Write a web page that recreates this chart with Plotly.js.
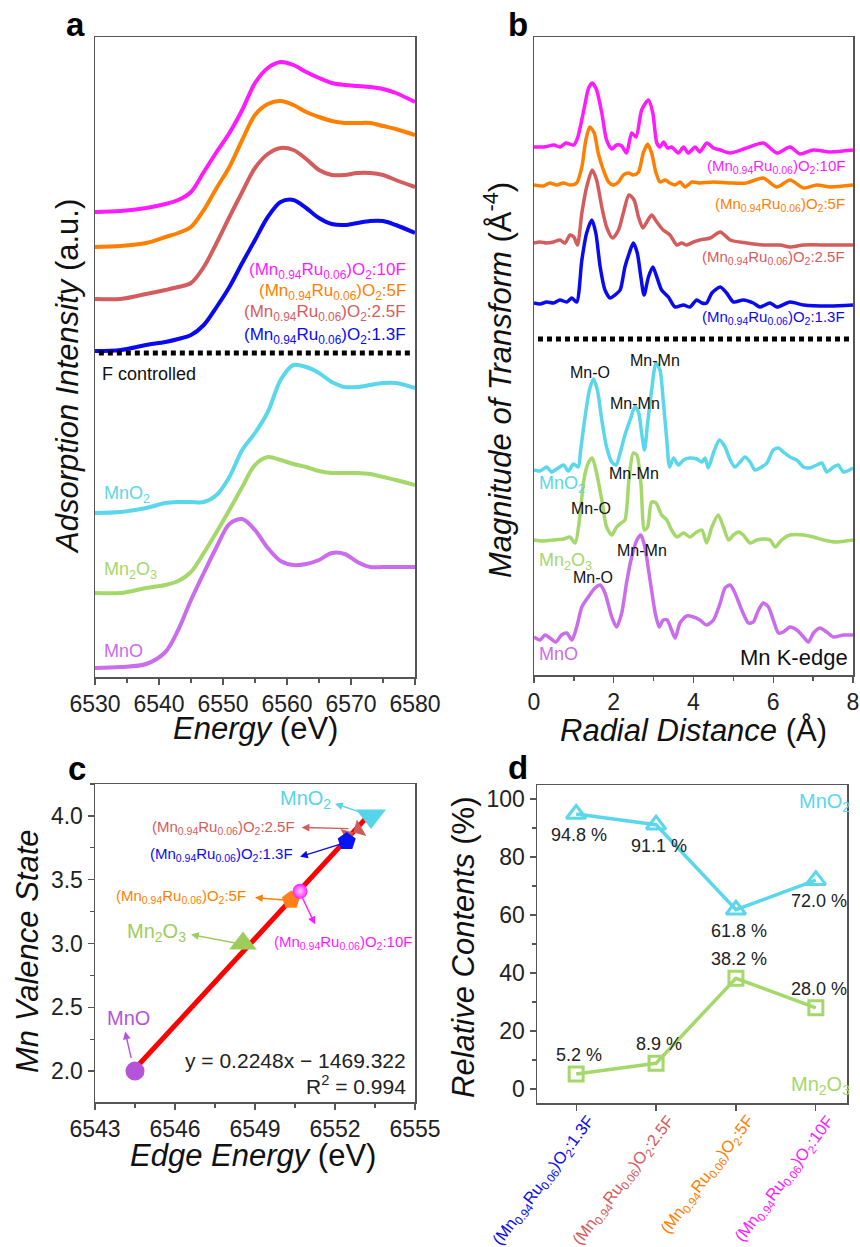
<!DOCTYPE html>
<html><head><meta charset="utf-8">
<script src="https://cdn.plot.ly/plotly-3.0.1.min.js"></script>
<style>html,body{margin:0;padding:0;background:#fff}#chart{width:860px;height:1247px}</style>
</head><body><div id="chart"></div>
<script>
// ---------- Panel a: XANES (Energy, eV) ----------
const eA = [6530, 6534, 6538, 6541, 6543, 6545, 6547, 6549, 6551, 6553, 6555, 6557, 6559, 6561, 6563, 6565, 6567, 6569, 6571, 6573, 6575, 6577, 6580];
const a10F  = [4.65, 4.66, 4.69, 4.73, 4.77, 4.85, 5.05, 5.25, 5.44, 5.67, 5.94, 6.09, 6.15, 6.12, 6.05, 5.99, 5.94, 5.92, 5.91, 5.90, 5.88, 5.84, 5.75];
const a5F   = [4.30, 4.31, 4.34, 4.40, 4.44, 4.50, 4.67, 4.89, 5.10, 5.37, 5.62, 5.73, 5.76, 5.72, 5.65, 5.60, 5.56, 5.54, 5.54, 5.54, 5.51, 5.48, 5.42];
const a2p5F = [3.78, 3.78, 3.83, 3.87, 3.90, 3.94, 4.10, 4.34, 4.60, 4.85, 5.09, 5.23, 5.29, 5.27, 5.18, 5.07, 5.02, 5.02, 5.04, 5.04, 5.02, 4.97, 4.90];
const a1p3F = [3.26, 3.27, 3.32, 3.35, 3.38, 3.42, 3.52, 3.70, 3.90, 4.14, 4.37, 4.60, 4.75, 4.77, 4.69, 4.59, 4.53, 4.52, 4.54, 4.56, 4.56, 4.52, 4.44];
const aMnO2 = [1.64, 1.65, 1.69, 1.74, 1.75, 1.75, 1.75, 1.82, 2.00, 2.27, 2.44, 2.65, 2.97, 3.12, 3.10, 3.04, 2.95, 2.90, 2.90, 2.92, 2.94, 2.94, 2.89];
const aMn2O3= [0.84, 0.84, 0.89, 0.92, 0.96, 1.05, 1.24, 1.45, 1.67, 1.90, 2.12, 2.20, 2.17, 2.13, 2.10, 2.06, 2.04, 2.04, 2.04, 2.03, 2.00, 1.97, 1.92];
const aMnO  = [0.09, 0.10, 0.13, 0.25, 0.47, 0.77, 1.04, 1.30, 1.53, 1.58, 1.47, 1.29, 1.16, 1.12, 1.13, 1.17, 1.24, 1.23, 1.15, 1.10, 1.10, 1.10, 1.10];
const dividerA = 3.24;

// ---------- Panel b: EXAFS (Radial distance, Å) ----------
const b10F_x = [0, 0.25, 0.5, 0.65, 0.8, 1.0, 1.1, 1.25, 1.37, 1.46, 1.57, 1.7, 1.82, 1.95, 2.07, 2.2, 2.32, 2.45, 2.56, 2.7, 2.87, 2.98, 3.08, 3.16, 3.25, 3.35, 3.45, 3.62, 3.75, 3.87, 4.04, 4.16, 4.33, 4.5, 4.67, 4.92, 5.33, 5.75, 6.09, 6.42, 6.67, 7.0, 7.43, 8.0];
const b10F_y = [5.28, 5.28, 5.30, 5.28, 5.32, 5.30, 5.38, 5.65, 5.87, 5.92, 5.85, 5.62, 5.35, 5.26, 5.30, 5.29, 5.22, 5.42, 5.38, 5.65, 5.75, 5.62, 5.32, 5.28, 5.33, 5.27, 5.28, 5.22, 5.28, 5.22, 5.28, 5.23, 5.32, 5.27, 5.25, 5.22, 5.27, 5.32, 5.22, 5.28, 5.21, 5.25, 5.23, 5.25];
const b5F_x = [0, 0.23, 0.4, 0.57, 0.74, 0.9, 1.07, 1.2, 1.3, 1.4, 1.51, 1.61, 1.74, 1.87, 1.99, 2.12, 2.24, 2.37, 2.49, 2.62, 2.74, 2.85, 2.95, 3.06, 3.16, 3.29, 3.41, 3.54, 3.66, 3.79, 3.96, 4.16, 4.5, 4.92, 5.33, 5.75, 6.09, 6.42, 6.76, 7.09, 7.43, 8.0];
const b5F_y = [4.90, 4.89, 4.92, 4.90, 4.92, 4.90, 4.92, 5.08, 5.35, 5.48, 5.42, 5.22, 5.05, 4.93, 4.90, 4.93, 5.00, 5.02, 5.00, 5.03, 5.22, 5.31, 5.22, 5.02, 4.93, 4.95, 4.92, 4.90, 4.93, 4.88, 4.93, 4.92, 4.93, 4.92, 4.92, 4.97, 4.88, 4.95, 4.87, 4.90, 4.88, 4.90];
const b2p5F_x = [0, 0.15, 0.32, 0.49, 0.65, 0.78, 0.9, 1.0, 1.09, 1.2, 1.32, 1.46, 1.57, 1.7, 1.82, 1.97, 2.12, 2.24, 2.38, 2.51, 2.62, 2.73, 2.83, 2.95, 3.08, 3.24, 3.41, 3.58, 3.7, 3.83, 4.0, 4.16, 4.42, 4.67, 4.92, 5.33, 5.75, 6.17, 6.42, 6.76, 7.43, 8.0];
const b2p5F_y = [4.32, 4.33, 4.32, 4.33, 4.35, 4.32, 4.40, 4.38, 4.30, 4.62, 4.88, 5.05, 4.95, 4.68, 4.48, 4.37, 4.45, 4.62, 4.80, 4.75, 4.58, 4.47, 4.53, 4.60, 4.53, 4.45, 4.40, 4.30, 4.32, 4.30, 4.33, 4.35, 4.37, 4.43, 4.35, 4.32, 4.30, 4.30, 4.28, 4.30, 4.30, 4.30];
const b1p3F_x = [0, 0.15, 0.32, 0.49, 0.65, 0.82, 0.95, 1.07, 1.2, 1.32, 1.45, 1.55, 1.66, 1.78, 1.91, 2.03, 2.16, 2.28, 2.39, 2.49, 2.59, 2.68, 2.76, 2.87, 2.98, 3.08, 3.2, 3.37, 3.54, 3.75, 3.91, 4.08, 4.21, 4.33, 4.46, 4.67, 4.83, 5.0, 5.25, 5.5, 5.67, 5.92, 6.09, 6.42, 6.76, 7.43, 8.0];
const b1p3F_y = [3.72, 3.71, 3.73, 3.72, 3.75, 3.73, 3.77, 3.73, 4.15, 4.42, 4.55, 4.42, 4.08, 3.85, 3.77, 3.80, 3.85, 4.08, 4.22, 4.32, 4.22, 3.98, 3.80, 3.98, 4.08, 3.98, 3.85, 3.78, 3.68, 3.70, 3.68, 3.75, 3.72, 3.72, 3.82, 3.88, 3.82, 3.73, 3.75, 3.72, 3.68, 3.72, 3.68, 3.73, 3.70, 3.69, 3.70];
const bMnO2_x = [0, 0.15, 0.32, 0.44, 0.61, 0.74, 0.86, 0.99, 1.11, 1.17, 1.28, 1.39, 1.49, 1.59, 1.7, 1.82, 1.95, 2.06, 2.16, 2.28, 2.41, 2.53, 2.62, 2.7, 2.77, 2.85, 2.95, 3.06, 3.16, 3.24, 3.33, 3.4, 3.5, 3.62, 3.75, 3.91, 4.08, 4.21, 4.29, 4.37, 4.5, 4.65, 4.79, 4.92, 5.04, 5.17, 5.29, 5.42, 5.54, 5.67, 5.84, 6.0, 6.13, 6.25, 6.42, 6.59, 6.76, 6.92, 7.09, 7.22, 7.34, 7.51, 7.63, 7.76, 8.0];
const bMnO2_y = [2.05, 2.04, 2.08, 2.03, 2.07, 2.10, 2.04, 2.11, 2.08, 2.25, 2.58, 2.85, 2.96, 2.85, 2.55, 2.28, 2.13, 2.10, 2.22, 2.40, 2.55, 2.68, 2.63, 2.42, 2.25, 2.52, 2.85, 3.12, 3.05, 2.75, 2.35, 2.08, 2.17, 2.10, 2.15, 2.17, 2.16, 2.13, 2.17, 2.07, 2.22, 2.35, 2.28, 2.15, 2.08, 2.13, 2.18, 2.13, 2.05, 2.07, 2.12, 2.25, 2.27, 2.23, 2.18, 2.15, 2.08, 2.07, 2.10, 2.12, 2.03, 2.08, 2.10, 2.03, 2.07];
const bMn2O3_x = [0, 0.23, 0.49, 0.74, 0.9, 1.03, 1.14, 1.25, 1.36, 1.46, 1.57, 1.7, 1.82, 1.95, 2.07, 2.18, 2.28, 2.38, 2.49, 2.58, 2.68, 2.77, 2.85, 2.95, 3.06, 3.2, 3.33, 3.45, 3.58, 3.75, 3.91, 4.08, 4.21, 4.33, 4.46, 4.62, 4.75, 4.88, 5.0, 5.13, 5.25, 5.42, 5.59, 5.75, 5.92, 6.05, 6.21, 6.42, 6.76, 7.01, 7.26, 7.59, 8.0];
const bMn2O3_y = [1.35, 1.34, 1.35, 1.36, 1.38, 1.32, 1.55, 1.95, 2.12, 2.17, 2.02, 1.75, 1.48, 1.40, 1.48, 1.52, 1.55, 1.95, 2.22, 2.20, 1.92, 1.45, 1.48, 1.73, 1.72, 1.60, 1.55, 1.45, 1.38, 1.42, 1.38, 1.43, 1.45, 1.32, 1.48, 1.60, 1.48, 1.35, 1.40, 1.43, 1.40, 1.32, 1.35, 1.36, 1.35, 1.28, 1.35, 1.40, 1.40, 1.38, 1.35, 1.33, 1.35];
const bMnO_x = [0, 0.15, 0.28, 0.4, 0.55, 0.69, 0.82, 0.95, 1.07, 1.2, 1.36, 1.53, 1.66, 1.78, 1.95, 2.07, 2.2, 2.32, 2.45, 2.58, 2.68, 2.78, 2.91, 3.04, 3.14, 3.24, 3.34, 3.45, 3.54, 3.66, 3.83, 4.0, 4.16, 4.33, 4.5, 4.67, 4.79, 4.92, 5.04, 5.21, 5.38, 5.5, 5.63, 5.75, 5.88, 6.0, 6.13, 6.25, 6.42, 6.59, 6.76, 6.88, 7.01, 7.17, 7.34, 7.51, 7.76, 8.0];
const bMnO_y = [0.38, 0.35, 0.40, 0.37, 0.33, 0.40, 0.42, 0.35, 0.48, 0.68, 0.78, 0.87, 0.90, 0.82, 0.58, 0.48, 0.62, 0.92, 1.18, 1.35, 1.40, 1.28, 0.95, 0.62, 0.48, 0.55, 0.55, 0.45, 0.37, 0.52, 0.59, 0.58, 0.55, 0.50, 0.55, 0.72, 0.87, 0.90, 0.82, 0.65, 0.52, 0.53, 0.65, 0.72, 0.68, 0.55, 0.42, 0.43, 0.48, 0.45, 0.38, 0.33, 0.42, 0.47, 0.43, 0.38, 0.40, 0.40];
const dividerB = 3.36;

// ---------- Panel c: valence vs edge energy ----------
const cNames   = ['MnO', 'Mn2O3', 'MnO2', '2.5F', '1.3F', '5F', '10F'];
const cEdgeE   = [6544.5, 6548.55, 6553.35, 6552.69, 6552.44, 6550.35, 6550.69];
const cValence = [2.0, 3.0, 4.0, 3.87, 3.80, 3.34, 3.41];
const fitX = [6544.55, 6553.2];
const fitY = [2.03, 3.99];

// ---------- Panel d: relative contents ----------
const dCats  = ['1.3F', '2.5F', '5F', '10F'];
const dMnO2  = [94.8, 91.1, 61.8, 72.0];
const dMn2O3 = [5.2, 8.9, 38.2, 28.0];

// ---------- styling ----------
const C = {m:'#ff1aff', o:'#ff8000', r:'#d55c5c', b:'#0a0af0', cy:'#5ad7ea', g:'#a5d86a', v:'#c96ded'};
const FONT = 'Liberation Sans, Arial, sans-serif';
const cmp = s => '(Mn<sub>0.94</sub>Ru<sub>0.06</sub>)O<sub>2</sub>:' + s;
const W = 860, H = 1247;
const px = v => v / W, py = v => 1 - v / H;

const traces = [];
function ln(x, y, color, w, xa, ya, sm) {
  traces.push({type:'scatter', mode:'lines', x:x, y:y, xaxis:xa, yaxis:ya,
    line:{color:color, width:w, shape:'spline', smoothing:sm}, hoverinfo:'skip', showlegend:false});
}
// panel a
[[a10F,C.m],[a5F,C.o],[a2p5F,C.r],[a1p3F,C.b],[aMnO2,C.cy],[aMn2O3,C.g],[aMnO,C.v]].forEach(s=>ln(eA, s[0], s[1], 4, 'x', 'y', 0.9));
traces.push({type:'scatter', mode:'lines', x:[eA[0]+0.6, eA[eA.length-1]-0.6], y:[dividerA, dividerA], xaxis:'x', yaxis:'y',
  line:{color:'#000', width:5, dash:'5px,4px'}, hoverinfo:'skip', showlegend:false});
// panel b
[[b10F_x,b10F_y,C.m],[b5F_x,b5F_y,C.o],[b2p5F_x,b2p5F_y,C.r],[b1p3F_x,b1p3F_y,C.b],
 [bMnO2_x,bMnO2_y,C.cy],[bMn2O3_x,bMn2O3_y,C.g],[bMnO_x,bMnO_y,C.v]].forEach(s=>ln(s[0], s[1], s[2], 3.5, 'x2', 'y2', 0.7));
traces.push({type:'scatter', mode:'lines', x:[0.1, 7.95], y:[dividerB, dividerB], xaxis:'x2', yaxis:'y2',
  line:{color:'#000', width:5, dash:'5px,4px'}, hoverinfo:'skip', showlegend:false});
// panel c
traces.push({type:'scatter', mode:'lines', x:fitX, y:fitY, xaxis:'x3', yaxis:'y3', line:{color:'#ff0000', width:5}, hoverinfo:'skip', showlegend:false});
const cStyle = {
  'MnO':  {symbol:'circle', size:19, color:'#b553d9'},
  'Mn2O3':{symbol:'triangle-up', size:24, color:'#9ccd5a'},
  'MnO2': {symbol:'triangle-down', size:26, color:'#55d4ea'},
  '2.5F': {symbol:'bowtie', size:19, color:'#d05a5a', angle:-30},
  '1.3F': {symbol:'pentagon', size:19, color:'#0a14f0'},
  '5F':   {symbol:'pentagon', size:19, color:'#ff7f1a'},
  '10F':  {symbol:'circle', size:15, color:'#ff1aff', gradient:{type:'radial', color:'#ffd0ff'}}
};
cNames.forEach((n,i)=>{
  const s = cStyle[n];
  traces.push({type:'scatter', mode:'markers', x:[cEdgeE[i]], y:[cValence[i]], xaxis:'x3', yaxis:'y3',
    marker:Object.assign({line:{width:0}}, s), hoverinfo:'skip', showlegend:false});
});
// panel d
const dIdx = dCats.map((c,i)=>i);
traces.push({type:'scatter', mode:'lines+markers', x:dIdx, y:dMnO2, xaxis:'x4', yaxis:'y4',
  line:{color:C.cy, width:3.5}, marker:{symbol:'triangle-up-open', size:17, color:C.cy, line:{width:3, color:C.cy}}, hoverinfo:'skip', showlegend:false});
traces.push({type:'scatter', mode:'lines+markers', x:dIdx, y:dMn2O3, xaxis:'x4', yaxis:'y4',
  line:{color:C.g, width:3.5}, marker:{symbol:'square-open', size:14, color:C.g, line:{width:3, color:C.g}}, hoverinfo:'skip', showlegend:false});

// ---------- axes ----------
const frame = {showline:true, mirror:true, linecolor:'#555', linewidth:1.5, zeroline:false, showgrid:false,
  tickfont:{family:FONT, size:23, color:'#222'}, ticks:'outside', ticklen:6, tickwidth:1.3, tickcolor:'#555'};
const noY = Object.assign({}, frame, {ticks:'', showticklabels:false});
const layout = {
  width:W, height:H, margin:{l:0, r:0, t:0, b:0}, paper_bgcolor:'#fff', plot_bgcolor:'#fff',
  font:{family:FONT, color:'#111'}, showlegend:false,
  xaxis: Object.assign({}, frame, {domain:[px(95), px(415)], range:[6530, 6580], tickvals:[6530,6540,6550,6560,6570,6580],
    minor:{dtick:5, ticklen:4, ticks:'outside', tickcolor:'#555'}, anchor:'y'}),
  yaxis: Object.assign({}, noY, {domain:[py(677), py(37)], range:[0, 6.40], anchor:'x'}),
  xaxis2: Object.assign({}, frame, {domain:[px(534), px(853)], range:[0, 8], dtick:2,
    minor:{dtick:1, ticklen:4, ticks:'outside', tickcolor:'#555'}, anchor:'y2'}),
  yaxis2: Object.assign({}, noY, {domain:[py(675), py(37)], range:[0, 6.38], anchor:'x2'}),
  xaxis3: Object.assign({}, frame, {domain:[px(95), px(415)], range:[6543, 6555], dtick:3, tick0:6543,
    minor:{dtick:1.5, ticklen:4, ticks:'outside', tickcolor:'#555'}, anchor:'y3'}),
  yaxis3: Object.assign({}, frame, {domain:[py(1102), py(784)], range:[1.758, 4.25], dtick:0.5, tick0:2, tickformat:'.1f',
    minor:{dtick:0.25, ticklen:4, ticks:'outside', tickcolor:'#555'}, anchor:'x3'}),
  xaxis4: Object.assign({}, frame, {domain:[px(537), px(847)], range:[-0.49, 3.39], tickvals:dIdx,
    showticklabels:false, anchor:'y4'}),
  yaxis4: Object.assign({}, frame, {domain:[py(1103), py(785)], range:[-4.8, 104.8], dtick:20,
    minor:{dtick:10, ticklen:4, ticks:'outside', tickcolor:'#555'}, anchor:'x4'}),
  annotations:[]
};
const A = layout.annotations;
function note(text, x, y, xr, yr, o) {
  A.push(Object.assign({text:text, x:x, y:y, xref:xr, yref:yr, showarrow:false, xanchor:'center', yanchor:'middle',
    font:{family:FONT, size:16, color:'#111'}}, o||{}));
}
// panel letters
[['a',75,25],['b',518,25],['c',77,768],['d',518,767]].forEach(l=>note('<b>'+l[0]+'</b>', px(l[1]), py(l[2]), 'paper', 'paper', {font:{family:FONT, size:33, color:'#000'}}));
// axis titles
const TF = {family:FONT, size:31, color:'#111'};
note('<i>Adsorption Intensity</i> (a.u.)', px(67), py(377), 'paper', 'paper', {textangle:-90, font:TF});
note('<i>Energy</i> (eV)', px(255), py(728), 'paper', 'paper', {font:TF});
note('<i>Magnitude of Transform</i> (Å<sup>-4</sup>)', px(498), py(380), 'paper', 'paper', {textangle:-90, font:TF});
note('<i>Radial Distance</i> (Å)', px(693), py(731), 'paper', 'paper', {font:TF});
note('<i>Mn Valence State</i>', px(27), py(951), 'paper', 'paper', {textangle:-90, font:TF});
note('<i>Edge Energy</i> (eV)', px(253), py(1155), 'paper', 'paper', {font:TF});
note('<i>Relative Contents</i> (%)', px(464), py(947), 'paper', 'paper', {textangle:-90, font:TF});
// panel a labels
[['10F',C.m,4.06],['5F',C.o,3.85],['2.5F',C.r,3.64],['1.3F',C.b,3.41]].forEach(l=>note(cmp(l[0]), 6578.9, l[2], 'x', 'y', {xanchor:'right', font:{family:FONT, size:17, color:l[1]}}));
note('F controlled', 6530.8, 3.03, 'x', 'y', {xanchor:'left', font:{family:FONT, size:18, color:'#111'}});
note('MnO<sub>2</sub>', 6531.1, 1.83, 'x', 'y', {xanchor:'left', font:{family:FONT, size:18, color:C.cy}});
note('Mn<sub>2</sub>O<sub>3</sub>', 6531.1, 1.07, 'x', 'y', {xanchor:'left', font:{family:FONT, size:18, color:C.g}});
note('MnO', 6531.1, 0.26, 'x', 'y', {xanchor:'left', font:{family:FONT, size:18, color:C.v}});
// panel b labels
[['10F',C.m,5.09],['5F',C.o,4.71],['2.5F',C.r,4.18],['1.3F',C.b,3.58]].forEach(l=>note(cmp(l[0]), 7.84, l[2], 'x2', 'y2', {xanchor:'right', font:{family:FONT, size:15, color:l[1]}}));
[['Mn-O',1.40,3.03],['Mn-Mn',3.03,3.15],['Mn-Mn',2.53,2.72],['Mn-Mn',2.51,2.02],['Mn-O',1.43,1.67],['Mn-Mn',2.71,1.25],['Mn-O',1.48,0.98]]
  .forEach(l=>note(l[0], l[1], l[2], 'x2', 'y2', {font:{family:FONT, size:16, color:'#111'}}));
note('Mn K-edge', 7.92, 0.18, 'x2', 'y2', {xanchor:'right', font:{family:FONT, size:22, color:'#111'}});
note('MnO<sub>2</sub>', 0.08, 1.91, 'x2', 'y2', {xanchor:'left', font:{family:FONT, size:18, color:C.cy}});
note('Mn<sub>2</sub>O<sub>3</sub>', 0.08, 1.14, 'x2', 'y2', {xanchor:'left', font:{family:FONT, size:18, color:C.g}});
note('MnO', 0.08, 0.21, 'x2', 'y2', {xanchor:'left', font:{family:FONT, size:18, color:C.v}});
// panel c labels + arrows
function arrow(hx, hy, tx, ty, col) {
  A.push({text:'', x:hx, y:hy, ax:tx, ay:ty, xref:'x3', yref:'y3', axref:'x3', ayref:'y3', showarrow:true,
    arrowhead:2, arrowsize:1.1, arrowwidth:1.4, arrowcolor:col});
}
note('MnO<sub>2</sub>', 6550.88, 4.13, 'x3', 'y3', {font:{family:FONT, size:20, color:'#55d4ea'}});
arrow(6552.0, 4.096, 6553.0, 4.026, '#55d4ea');
note(cmp('2.5F'), 6550.57, 3.91, 'x3', 'y3', {xanchor:'right', font:{family:FONT, size:15, color:C.r}});
arrow(6550.75, 3.91, 6552.56, 3.90, C.r);
note(cmp('1.3F'), 6550.5, 3.70, 'x3', 'y3', {xanchor:'right', font:{family:FONT, size:15, color:C.b}});
arrow(6550.69, 3.68, 6552.38, 3.79, C.b);
note(cmp('5F'), 6548.74, 3.37, 'x3', 'y3', {xanchor:'right', font:{family:FONT, size:15, color:C.o}});
arrow(6549.0, 3.36, 6550.13, 3.34, C.o);
note(cmp('10F'), 6549.64, 3.01, 'x3', 'y3', {xanchor:'left', font:{family:FONT, size:15, color:C.m}});
arrow(6551.25, 3.15, 6550.75, 3.37, C.m);
note('Mn<sub>2</sub>O<sub>3</sub>', 6546.49, 3.09, 'x3', 'y3', {xanchor:'right', font:{family:FONT, size:20, color:'#9ccd5a'}});
arrow(6546.6, 3.07, 6548.37, 3.0, '#9ccd5a');
note('MnO', 6544.24, 2.42, 'x3', 'y3', {font:{family:FONT, size:20, color:'#b553d9'}});
arrow(6544.13, 2.31, 6544.37, 2.09, '#b553d9');
note('y = 0.2248x − 1469.322', 6554.75, 2.086, 'x3', 'y3', {xanchor:'right', font:{family:FONT, size:21, color:'#222'}});
note('R<sup>2</sup> = 0.994', 6554.75, 1.89, 'x3', 'y3', {xanchor:'right', font:{family:FONT, size:21, color:'#222'}});
// panel d value labels
dMnO2.forEach((v,i)=>note(v.toFixed(1)+' %', i, v, 'x4', 'y4', {yshift:-21, xshift:3, font:{family:FONT, size:18, color:'#222'}}));
dMn2O3.forEach((v,i)=>note(v.toFixed(1)+' %', i, v, 'x4', 'y4', {yshift:19, xshift:3, font:{family:FONT, size:18, color:'#222'}}));
note('MnO<sub>2</sub>', 3.38, 98.6, 'x4', 'y4', {xanchor:'right', xshift:6, font:{family:FONT, size:20, color:C.cy}});
note('Mn<sub>2</sub>O<sub>3</sub>', 3.38, 1.4, 'x4', 'y4', {xanchor:'right', xshift:6, font:{family:FONT, size:20, color:C.g}});
// panel d category labels (rotated, coloured)
[C.b, C.r, C.o, C.m].forEach((col,i)=>note(cmp(dCats[i]), i, py(1109), 'x4', 'paper',
  {textangle:-53, xanchor:'right', yanchor:'top', xshift:25, font:{family:FONT, size:16.5, color:col}}));

Plotly.newPlot('chart', traces, layout, {staticPlot:true, displayModeBar:false});
</script></body></html>
